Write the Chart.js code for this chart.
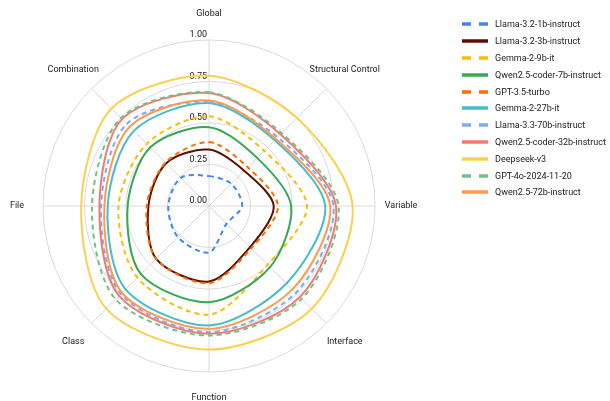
<!DOCTYPE html>
<html>
<head>
<meta charset="utf-8">
<script src="https://cdn.jsdelivr.net/npm/chart.js@4.4.1/dist/chart.umd.min.js"></script>
<style>
  html, body { margin: 0; padding: 0; background: #fff; }
  #wrap { position: relative; width: 610px; height: 401px; }
  #legend { position: absolute; left: 462px; top: 16px; font: 9px Roboto, sans-serif; color: #222; }
  .item { display: flex; align-items: center; height: 16.8px; white-space: nowrap; }
  .item svg { width: 26px; height: 6px; margin-right: 7px; flex: none; }
</style>
</head>
<body>
<div id="wrap">
  <canvas id="chart" width="610" height="401"></canvas>
  <div id="legend"></div>
</div>
<script>
// axes, clockwise from the top
const AXES = ['Global', 'Structural Control', 'Variable', 'Interface', 'Function', 'Class', 'File', 'Combination'];
const TICKS = [0, 0.25, 0.5, 0.75, 1];

const MODELS = [
  'Llama-3.2-1b-instruct',
  'Llama-3.2-3b-instruct',
  'Gemma-2-9b-it',
  'Qwen2.5-coder-7b-instruct',
  'GPT-3.5-turbo',
  'Gemma-2-27b-it',
  'Llama-3.3-70b-instruct',
  'Qwen2.5-coder-32b-instruct',
  'Deepseek-v3',
  'GPT-4o-2024-11-20',
  'Qwen2.5-72b-instruct',
];

// scores per axis (same order as AXES)
const llama1b   = [0.18, 0.19, 0.20, 0.15, 0.28, 0.265, 0.245, 0.24];
const llama3b   = [0.34, 0.30, 0.39, 0.35, 0.455, 0.45, 0.365, 0.365];
const gemma9b   = [0.54, 0.47, 0.59, 0.50, 0.655, 0.61, 0.545, 0.53];
const qwen7b    = [0.475, 0.41, 0.495, 0.52, 0.58, 0.58, 0.49, 0.50];
const gpt35     = [0.385, 0.33, 0.415, 0.36, 0.465, 0.45, 0.375, 0.37];
const gemma27b  = [0.62, 0.56, 0.70, 0.66, 0.72, 0.71, 0.61, 0.64];
const llama70b  = [0.625, 0.585, 0.75, 0.74, 0.76, 0.75, 0.65, 0.70];
const qwen32b   = [0.68, 0.61, 0.765, 0.775, 0.77, 0.765, 0.66, 0.74];
const deepseek  = [0.785, 0.75, 0.865, 0.875, 0.865, 0.875, 0.77, 0.83];
const gpt4o     = [0.685, 0.62, 0.78, 0.79, 0.78, 0.795, 0.705, 0.75];
const qwen72b   = [0.635, 0.57, 0.73, 0.71, 0.74, 0.74, 0.63, 0.675];

const SCORES = [llama1b, llama3b, gemma9b, qwen7b, gpt35, gemma27b, llama70b, qwen32b, deepseek, gpt4o, qwen72b];

const COLORS = ['#4285f4', '#5b0f00', '#fbbc04', '#34a853', '#ff6d01', '#46bdc6',
                '#7baaf7', '#f07b72', '#fcd04f', '#71c287', '#ff994d'];
const DASHED = [true, false, true, false, true, false, true, false, false, true, false];

const FONT = '9px Roboto, sans-serif';
const TEXT = '#222';

// tick labels sit just left of the vertical axis, a little above each ring
const tickLabels = {
  id: 'tickLabels',
  beforeDatasetsDraw(chart) {
    const s = chart.scales.r;
    const ctx = chart.ctx;
    ctx.save();
    ctx.font = FONT;
    ctx.fillStyle = TEXT;
    ctx.textAlign = 'right';
    ctx.textBaseline = 'middle';
    TICKS.forEach(v => {
      const y = s.yCenter - s.getDistanceFromCenterForValue(v) - 5;
      ctx.fillText(v.toFixed(2), s.xCenter - 2, y);
    });
    ctx.restore();
  },
};

// axis names centred on a ring outside the grid
const axisNames = {
  id: 'axisNames',
  afterDraw(chart) {
    const s = chart.scales.r;
    const ctx = chart.ctx;
    ctx.save();
    ctx.font = FONT;
    ctx.fillStyle = TEXT;
    ctx.textAlign = 'center';
    ctx.textBaseline = 'middle';
    AXES.forEach((name, i) => {
      const p = s.getPointPosition(i, s.drawingArea + 26);
      ctx.fillText(name, p.x, p.y);
    });
    ctx.restore();
  },
};

function buildDatasets() {
  return MODELS.map((name, i) => ({
    label: name,
    data: SCORES[i],
    borderColor: COLORS[i],
    backgroundColor: COLORS[i],
    borderWidth: 2,
    borderDash: DASHED[i] ? [5, 4] : [],
    pointRadius: 0,
    pointHoverRadius: 0,
    fill: false,
    tension: 0.3,
    order: -i, // later series drawn on top
  }));
}

function renderLegend() {
  const box = document.getElementById('legend');
  MODELS.forEach((name, i) => {
    const row = document.createElement('div');
    row.className = 'item';
    const dash = DASHED[i] ? ' stroke-dasharray="9 8"' : '';
    row.innerHTML = `
      <svg viewBox="0 0 26 6"><line x1="0" y1="3" x2="26" y2="3" stroke="${COLORS[i]}" stroke-width="3.5"${dash}/></svg>
      <span>${name}</span>`;
    box.appendChild(row);
  });
}

function renderChart() {
  new Chart(document.getElementById('chart'), {
    type: 'radar',
    data: { labels: AXES, datasets: buildDatasets() },
    options: {
      responsive: false,
      animation: false,
      layout: { padding: { left: 0, right: 192, top: 40, bottom: 29 } },
      plugins: { legend: { display: false }, tooltip: { enabled: false } },
      scales: {
        r: {
          min: 0,
          max: 1,
          ticks: { stepSize: 0.25, display: false },
          grid: { circular: true, color: '#dadada', lineWidth: 1 },
          angleLines: { color: '#dadada', lineWidth: 1 },
          pointLabels: { display: false },
        },
      },
    },
    plugins: [tickLabels, axisNames],
  });
}

renderLegend();
renderChart();
</script>
</body>
</html>
